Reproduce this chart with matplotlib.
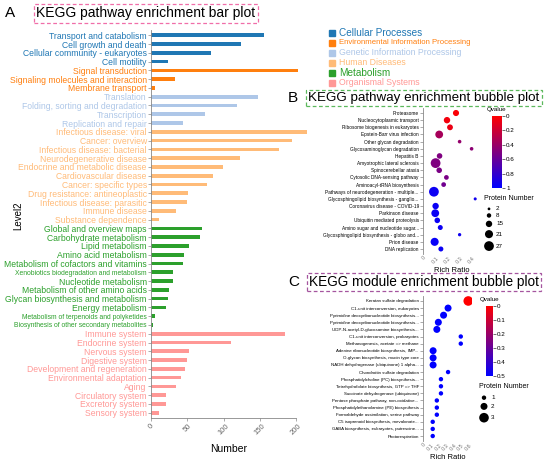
import numpy as np
import matplotlib
matplotlib.use('Agg')
import matplotlib.pyplot as plt
from matplotlib.colors import LinearSegmentedColormap
from matplotlib.patches import Rectangle

plt.rcParams['font.family'] = ['Liberation Sans', 'DejaVu Sans']

W, H = 550, 463

# ---- panel A: KEGG level2 counts, grouped by level1 ----
level1_names = ['Cellular Processes', 'Environmental Information Processing',
                'Genetic Information Processing', 'Human Diseases',
                'Metabolism', 'Organismal Systems']
level1_colors = ['#1f77b4', '#ff7f0e', '#aec7e8', '#ffbb78', '#2ca02c', '#ff9896']

cp_terms = ['Transport and catabolism', 'Cell growth and death',
            'Cellular community - eukaryotes', 'Cell motility']
cp_counts = [156, 124, 83, 23]
eip_terms = ['Signal transduction', 'Signaling molecules and interaction',
             'Membrane transport']
eip_counts = [202, 33, 5]
gip_terms = ['Translation', 'Folding, sorting and degradation',
             'Transcription', 'Replication and repair']
gip_counts = [148, 118, 75, 44]
hd_terms = ['Infectious disease: viral', 'Cancer: overview',
            'Infectious disease: bacterial', 'Neurodegenerative disease',
            'Endocrine and metabolic disease', 'Cardiovascular disease',
            'Cancer: specific types', 'Drug resistance: antineoplastic',
            'Infectious disease: parasitic', 'Immune disease',
            'Substance dependence']
hd_counts = [215, 195, 176, 122, 99, 86, 77, 51, 49, 34, 11]
met_terms = ['Global and overview maps', 'Carbohydrate metabolism',
             'Lipid metabolism', 'Amino acid metabolism',
             'Metabolism of cofactors and vitamins',
             'Xenobiotics biodegradation and metabolism',
             'Nucleotide metabolism', 'Metabolism of other amino acids',
             'Glycan biosynthesis and metabolism', 'Energy metabolism',
             'Metabolism of terpenoids and polyketides',
             'Biosynthesis of other secondary metabolites']
met_counts = [70, 68, 52, 46, 44, 30, 30, 25, 24, 20, 5, 2.5]
os_terms = ['Immune system', 'Endocrine system', 'Nervous system',
            'Digestive system', 'Development and regeneration',
            'Environmental adaptation', 'Aging', 'Circulatory system',
            'Excretory system', 'Sensory system']
os_counts = [184, 110, 52, 49, 47, 42, 34, 21, 20, 11]

small_labels = ['Xenobiotics biodegradation and metabolism',
                'Metabolism of terpenoids and polyketides',
                'Biosynthesis of other secondary metabolites']
bar_xticks = [0, 50, 100, 150, 200]

# ---- panel B: pathway bubble plot ----
b_terms = ['Proteasome', 'Nucleocytoplasmic transport',
           'Ribosome biogenesis in eukaryotes', 'Epstein-Barr virus infection',
           'Other glycan degradation', 'Glycosaminoglycan degradation',
           'Hepatitis B', 'Amyotrophic lateral sclerosis',
           'Spinocerebellar ataxia', 'Cytosolic DNA-sensing pathway',
           'Aminoacyl-tRNA biosynthesis',
           'Pathways of neurodegeneration - multiple...',
           'Glycosphingolipid biosynthesis - ganglio...',
           'Coronavirus disease - COVID-19', 'Parkinson disease',
           'Ubiquitin mediated proteolysis', 'Amino sugar and nucleotide sugar...',
           'Glycosphingolipid biosynthesis - globo and...', 'Prion disease',
           'DNA replication']
b_ratio = [0.27, 0.195, 0.22, 0.13, 0.30, 0.40, 0.133, 0.10, 0.13, 0.19,
           0.167, 0.086, 0.43, 0.10, 0.097, 0.114, 0.139, 0.30, 0.092, 0.144]
b_count = [14, 15, 13, 20, 5, 5, 12, 27, 12, 9, 9, 27, 3, 15, 20, 12, 10, 4, 21, 10]
b_qvalue = [0.02, 0.05, 0.08, 0.35, 0.42, 0.45, 0.5, 0.5, 0.52, 0.52, 0.56,
            0.95, 0.93, 0.96, 0.96, 0.96, 0.95, 0.94, 0.97, 0.96]
b_size_legend = [2, 8, 15, 21, 27]
b_xticks = [0, 0.1, 0.2, 0.3, 0.4]
b_cticks = [0, 0.2, 0.4, 0.6, 0.8, 1]

# ---- panel C: module bubble plot ----
c_terms = ['Keratan sulfate degradation', 'C1-unit interconversion, eukaryotes',
           'Pyrimidine deoxyribonucleotide biosynthesis...',
           'Pyrimidine deoxyribonucleotide biosynthesis...',
           'UDP-N-acetyl-D-glucosamine biosynthesis...',
           'C1-unit interconversion, prokaryotes',
           'Methanogenesis, acetate => methane',
           'Adenine ribonucleotide biosynthesis, IMP...',
           'O-glycan biosynthesis, mucin type core',
           'NADH dehydrogenase (ubiquinone) 1 alpha...',
           'Chondroitin sulfate degradation',
           'Phosphatidylcholine (PC) biosynthesis...',
           'Tetrahydrofolate biosynthesis, GTP => THF',
           'Succinate dehydrogenase (ubiquinone)',
           'Pentose phosphate pathway, non-oxidative...',
           'Phosphatidylethanolamine (PE) biosynthesis',
           'Formaldehyde assimilation, serine pathway',
           'C5 isoprenoid biosynthesis, mevalonate...',
           'GABA biosynthesis, eukaryotes, putrescine...',
           'Photorespiration']
c_ratio = [0.6, 0.33, 0.27, 0.2, 0.18, 0.5, 0.5, 0.13, 0.13, 0.13,
           0.33, 0.235, 0.235, 0.235, 0.18, 0.18, 0.18, 0.125, 0.125, 0.125]
c_count = [3, 2, 2, 2, 2, 1, 1, 2, 2, 2, 1, 1, 1, 1, 1, 1, 1, 1, 1, 1]
c_qvalue = [0.0, 0.5, 0.5, 0.5, 0.5, 0.5, 0.5, 0.5, 0.5, 0.5,
            0.5, 0.5, 0.5, 0.5, 0.5, 0.5, 0.5, 0.5, 0.5, 0.5]
c_size_legend = [1, 2, 3]
c_xticks = [0, 0.1, 0.2, 0.3, 0.4, 0.5, 0.6]
c_cticks = [0, 0.1, 0.2, 0.3, 0.4, 0.5]

cmap = LinearSegmentedColormap.from_list('rb', ['#ff0000', '#0000ff'])
AXIS_GRAY = '#888888'


def rect(x0, y0, x1, y1):
    # pixel box (top-left origin) -> figure fraction
    return [x0 / W, 1 - y1 / H, (x1 - x0) / W, (y1 - y0) / H]


def title(fig, letter, text, x_letter, x_text, y, color, fs=10):
    fig.text(x_letter / W, 1 - y / H, letter, fontsize=11, va='center')
    fig.text(x_text / W, 1 - y / H, text, fontsize=fs, va='center',
             bbox=dict(boxstyle='square,pad=0.18', fc='none', ec=color,
                       ls=(0, (3, 2)), lw=0.9))


def style_axis(ax):
    for s in ['top', 'right']:
        ax.spines[s].set_visible(False)
    for s in ['left', 'bottom']:
        ax.spines[s].set_color(AXIS_GRAY)
        ax.spines[s].set_linewidth(0.6)
    ax.tick_params(color=AXIS_GRAY, width=0.5, length=2, pad=1)


def bar_panel(fig):
    groups = [(cp_terms, cp_counts), (eip_terms, eip_counts),
              (gip_terms, gip_counts), (hd_terms, hd_counts),
              (met_terms, met_counts), (os_terms, os_counts)]
    terms, counts, colors = [], [], []
    for (t, c), col in zip(groups, level1_colors):
        terms += t
        counts += c
        colors += [col] * len(t)
    y = np.arange(len(terms))

    ax = fig.add_axes(rect(151, 30, 307, 418))
    ax.barh(y, counts, height=0.42, color=colors)
    ax.set_ylim(len(terms) - 0.4, -0.6)
    ax.set_xlim(0, 215)
    ax.set_yticks(y)
    ax.set_yticklabels(terms, fontsize=6.2)
    for lab, col in zip(ax.get_yticklabels(), colors):
        lab.set_color(col)
        if lab.get_text() in small_labels:
            lab.set_fontsize(4.9)
    ax.set_xticks(bar_xticks)
    ax.set_xticklabels([str(v) for v in bar_xticks], rotation=45,
                       fontsize=5.5, color='#666666')
    style_axis(ax)
    ax.spines['bottom'].set_bounds(0, 200)
    ax.set_xlabel('Number', fontsize=7.5, labelpad=6)
    ax.set_ylabel('Level2', fontsize=7, labelpad=2)
    ax.yaxis.set_label_coords(-0.82, 0.52)

    # level1 legend
    for i, (name, col) in enumerate(zip(level1_names, level1_colors)):
        yy = 33 + i * 9.9
        fig.patches.append(Rectangle((329 / W, 1 - (yy + 3) / H), 6 / W, 6 / H,
                                     transform=fig.transFigure, color=col))
        fs = 7.2 if i in (0, 4) else 6.3
        if i == 1:
            fs = 5.6
        fig.text(339 / W, 1 - yy / H, name, color=col, fontsize=fs, va='center')


def size_points(count, base, step):
    d_px = base + step * np.asarray(count, dtype=float)
    return (d_px * 0.72) ** 2


def bubble_panel(fig, box, terms, ratio, count, qvalue, qmax, xticks, xmax,
                 cbox, cticks, lbox, lsizes, base, step, label_fs):
    ax = fig.add_axes(rect(*box))
    y = np.arange(len(terms))
    sc = ax.scatter(ratio, y, s=size_points(count, base, step), c=qvalue,
                    cmap=cmap, vmin=0, vmax=qmax, edgecolors='none', zorder=3)
    ax.set_ylim(len(terms) - 0.3, -0.7)
    ax.set_xlim(-0.005, xmax)
    ax.set_yticks(y)
    ax.set_yticklabels(terms, fontsize=label_fs)
    ax.set_xticks(xticks)
    ax.set_xticklabels([f'{v:g}' for v in xticks], rotation=45, fontsize=4,
                       color='#777777')
    style_axis(ax)
    ax.spines['bottom'].set_visible(False)
    ax.tick_params(axis='x', length=0)
    ax.set_xlabel('Rich Ratio', fontsize=5.5, labelpad=1.5)

    cax = fig.add_axes(rect(*cbox))
    cb = fig.colorbar(sc, cax=cax, ticks=cticks)
    cb.outline.set_visible(False)
    cax.invert_yaxis()
    cax.tick_params(labelsize=4.5, length=2, width=0.4, pad=1)
    cax.set_yticklabels([f'{v:g}' for v in cticks])
    cax.set_title('Qvalue', fontsize=4.5, pad=3.5)

    # protein number size legend
    lax = fig.add_axes(rect(*lbox))
    lax.set_axis_off()
    x0, y0, x1, y1 = lbox
    lax.set_xlim(x0, x1)
    lax.set_ylim(y1, y0)
    lax.text(x0 + 2, y0 + 4, 'Protein Number', fontsize=5, va='center')
    d = base + step * np.asarray(lsizes, dtype=float)
    ypos = y0 + 12 + np.cumsum(d + 3) - (d + 3) / 2
    lax.scatter(np.full(len(lsizes), x0 + 7), ypos,
                s=size_points(lsizes, base, step), color='black',
                edgecolors='none')
    for yy, v in zip(ypos, lsizes):
        lax.text(x0 + 14, yy, str(v), fontsize=4.5, va='center')


def main():
    fig = plt.figure(figsize=(W / 100, H / 100), dpi=100)

    title(fig, 'A', 'KEGG pathway enrichment bar plot', 5, 36, 13, '#f06ea9')
    title(fig, 'B', 'KEGG pathway enrichment bubble plot', 288, 308, 98,
          '#5cb85c', fs=9.6)
    title(fig, 'C', 'KEGG module enrichment bubble plot', 288, 309, 282,
          '#a5559f', fs=9.8)

    bar_panel(fig)

    bubble_panel(fig, (423, 108, 480, 254), b_terms, b_ratio, b_count,
                 b_qvalue, 1.0, b_xticks, 0.47, (492, 116, 502, 188),
                 b_cticks, (482, 194, 540, 260), b_size_legend, 2.2, 0.28, 3.4)
    bubble_panel(fig, (423, 296, 472, 441), c_terms, c_ratio, c_count,
                 c_qvalue, 0.5, c_xticks, 0.65, (486, 306, 493, 376),
                 c_cticks, (477, 382, 540, 428), c_size_legend, 1.8, 2.6, 3.2)

    fig.savefig('out.png', dpi=100)


if __name__ == '__main__':
    main()
